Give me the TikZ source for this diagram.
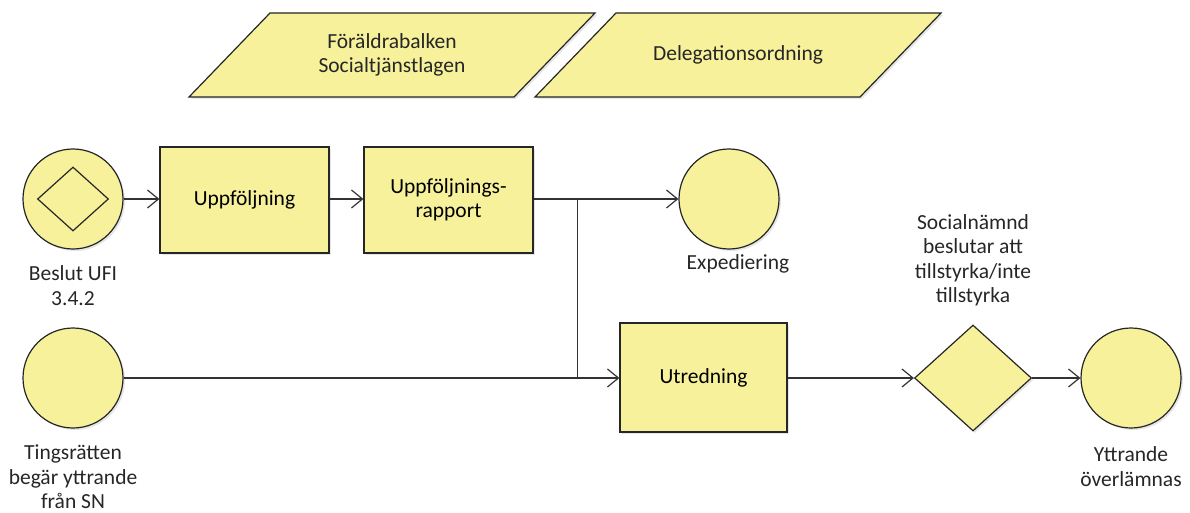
\documentclass[tikz,border=0pt]{standalone}
\usepackage{fontspec}
\setmainfont{Carlito}
\usetikzlibrary{shapes.geometric,positioning,calc,arrows.meta,shadows}
\definecolor{bpmnyellow}{RGB}{246,241,154}
\tikzset{BASE/.style={draw=black!85,line width=1.2pt,fill=bpmnyellow,drop shadow={shadow xshift=2pt,shadow yshift=-2pt,opacity=0.2}}}
\tikzset{EVENT/.style={BASE,circle,minimum size=100pt,inner sep=0pt}}
\tikzset{TASK/.style={BASE,rectangle,minimum width=169pt,minimum height=106pt,align=center,inner sep=0pt}}
\tikzset{GATE/.style={BASE,diamond,minimum width=117pt,minimum height=106pt,inner sep=0pt}}
\tikzset{LABEL/.style={align=center,inner sep=0pt,text=black!85}}
\tikzset{ARROW/.style={draw=black!80,line width=1.2pt,-{Straight Barb[length=11pt,width=18pt,line width=1.2pt]}}}
\tikzset{LINE/.style={draw=black!80,line width=1.2pt}}

\begin{document}
\begin{tikzpicture}[x=1pt,y=1pt,font=\fontsize{21.5}{24.5}\selectfont]
\useasboundingbox (0,0) rectangle (1190,-513);

% document shapes (parallelograms)
\coordinate (c_lag) at (392,-55);
\coordinate (c_deleg) at (738,-55);
\foreach \c in {c_lag,c_deleg}
  \draw[BASE] ($(\c)+(-203,-42)$) -- ($(\c)+(122,-42)$) -- ($(\c)+(203,42)$) -- ($(\c)+(-122,42)$) -- cycle;
\node[LABEL] (n_lag) at (c_lag) {Föräldrabalken\\Socialtjänstlagen};
\node[LABEL] (n_deleg) at (c_deleg) {Delegationsordning};

\node[EVENT] (n_beslut) at (73,-199) {};
\node[draw=black!85,line width=1.2pt,diamond,minimum width=71pt,minimum height=64pt,inner sep=0pt] (n_beslut_d) at (n_beslut) {};
\node[TASK] (n_uppf) at (244.5,-200) {Uppföljning};
\node[TASK] (n_rapport) at (448.5,-200) {Uppföljnings-\\rapport};
\node[EVENT] (n_exped) at (729,-199) {};

\node[EVENT] (n_tings) at (73,-378) {};
\node[TASK,minimum width=167pt,minimum height=109pt] (n_utred) at (703.5,-377.5) {Utredning};
\node[GATE] (n_gate) at (973,-378) {};
\node[EVENT] (n_yttr) at (1131,-378) {};

\node[LABEL,below=16pt of n_beslut] (l_beslut) {Beslut UFI\\3.4.2};
\node[LABEL,below=5pt of n_exped,xshift=9pt] (l_exped) {Expediering};
\node[LABEL,below=16pt of n_tings] (l_tings) {Tingsrätten\\begär yttrande\\från SN};
\node[LABEL,above=18pt of n_gate] (l_gate) {Socialnämnd\\beslutar att\\tillstyrka/inte\\tillstyrka};
\node[LABEL,below=18pt of n_yttr] (l_yttr) {Yttrande\\överlämnas};

\draw[ARROW] (n_beslut) -- (n_beslut -| n_uppf.west);
\draw[ARROW] (n_uppf.east |- n_beslut) -- (n_beslut -| n_rapport.west);
\draw[ARROW] (n_rapport.east |- n_exped) -- (n_exped);

\coordinate (c_split) at ($(n_rapport.east |- n_exped)+(44,0)$);
\draw[LINE] (c_split) -- (c_split |- n_tings);

\draw[ARROW] (n_tings) -- (n_tings -| n_utred.west);
\draw[ARROW] (n_utred.east |- n_gate) -- (n_gate);
\draw[ARROW] (n_gate) -- (n_yttr);

\end{tikzpicture}
\end{document}
